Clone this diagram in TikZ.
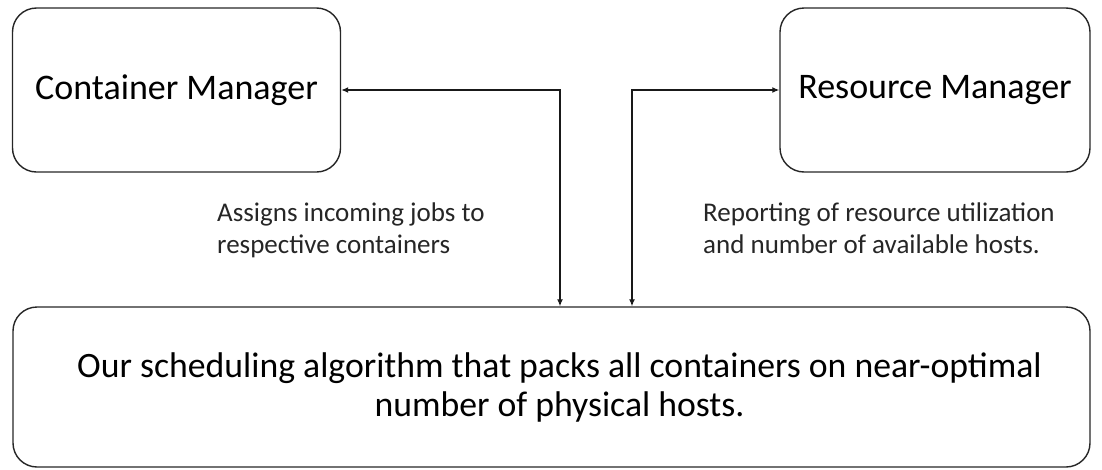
\documentclass[tikz,border=0pt]{standalone}
\usepackage{fontspec}
\setmainfont{Carlito}
\usetikzlibrary{arrows.meta}
\begin{document}
\begin{tikzpicture}[x=1pt,y=-1pt,
  box/.style={draw=black!85,line width=1.4pt,rounded corners=24pt,inner sep=0pt,align=center},
  conn/.style={draw=black!90,line width=1.3pt,{Latex[length=7pt,width=6pt]}-{Latex[length=7pt,width=6pt]}},
  lbl/.style={anchor=north west,align=left,font=\fontsize{27}{32}\selectfont,inner sep=0pt,text=black!85}]
\useasboundingbox (0,0) rectangle (1102,469);
\node[box,minimum width=328pt,minimum height=164pt,font=\fontsize{36}{40}\selectfont] (cm) at (176.5,90) {Container Manager};
\node[box,minimum width=310pt,minimum height=164pt,font=\fontsize{36}{40}\selectfont] (rm) at (935,90) {Resource Manager};
\node[box,minimum width=1077pt,minimum height=160pt] (bot) at (551.5,387) {};
\node[align=center,inner sep=0pt,font=\fontsize{35.7}{39}\selectfont] (bottxt) at (559.5,387) {Our scheduling algorithm that packs all containers on near-optimal\\number of physical hosts.};
\coordinate (j1) at (560,90);
\coordinate (j2) at (632,90);
\draw[conn] (cm.east) -- (j1) -- (j1 |- bot.north);
\draw[conn] (rm.west) -- (j2) -- (j2 |- bot.north);
\node[lbl] (l1) at (217,203) {Assigns incoming jobs to\\respective containers};
\node[lbl] (l2) at (703,203) {Reporting of resource utilization\\and number of available hosts.};
\end{tikzpicture}
\end{document}
